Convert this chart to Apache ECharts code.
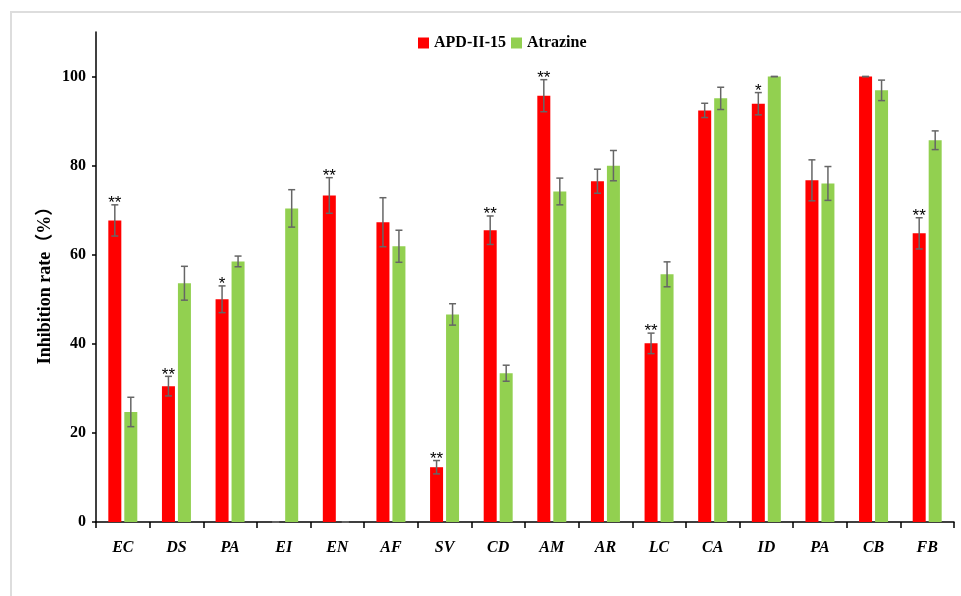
<!DOCTYPE html>
<html>
<head>
<meta charset="utf-8">
<script src="https://cdn.jsdelivr.net/npm/echarts@6/dist/echarts.min.js"></script>
<style>
  html, body { margin: 0; padding: 0; background: #fff; }
  #chart { width: 961px; height: 596px; }
</style>
</head>
<body>
<div id="chart"></div>
<script>
// Strain abbreviations on the x axis
const categories = ['EC', 'DS', 'PA', 'EI', 'EN', 'AF', 'SV', 'CD', 'AM', 'AR', 'LC', 'CA', 'ID', 'PA', 'CB', 'FB'];

// Inhibition rate (%) and standard deviation per strain
const apdValues   = [67.7, 30.5, 50.0, 0, 73.3, 67.3, 12.3, 65.5, 95.7, 76.5, 40.1, 92.4, 93.9, 76.7, 100, 64.8];
const apdErrors   = [3.5, 2.2, 3.0, 0, 4.0, 5.5, 1.5, 3.2, 3.6, 2.7, 2.3, 1.6, 2.5, 4.6, 0, 3.5];
const atrValues   = [24.7, 53.6, 58.5, 70.4, 0, 61.9, 46.6, 33.4, 74.2, 80.0, 55.6, 95.1, 100, 76.0, 96.9, 85.7];
const atrErrors   = [3.3, 3.8, 1.2, 4.2, 0, 3.6, 2.4, 1.8, 3.0, 3.4, 2.8, 2.5, 0, 3.8, 2.3, 2.1];

// Significance marks above APD-II-15 bars
const apdSignif   = ['**', '**', '*', '', '**', '', '**', '**', '**', '', '**', '', '*', '', '', '**'];

const yTicks = [0, 20, 40, 60, 80, 100];
const yAxisTitle = 'Inhibition rate（%）';

const RED = '#ff0000';
const GREEN = '#92d050';
const BAR_W = 13;
const HALF_OFFSET = 8;
const SERIF = '"Liberation Serif", "Times New Roman", "Noto Sans CJK SC", serif';

function errorSeries(values, errors, offset, marks) {
  return {
    type: 'custom',
    z: 5,
    data: values.map((v, i) => [i, v, errors[i]]),
    renderItem: function (params, api) {
      const idx = api.value(0);
      const val = api.value(1);
      const err = api.value(2);
      const mark = marks ? marks[idx] : '';
      const top = api.coord([idx, val + err]);
      const bot = api.coord([idx, Math.max(val - err, 0)]);
      const x = top[0] + offset;
      const cap = 3.5;
      const style = { stroke: '#666666', lineWidth: 1.5 };
      const children = [
        { type: 'line', shape: { x1: x, y1: top[1], x2: x, y2: bot[1] }, style: style },
        { type: 'line', shape: { x1: x - cap, y1: top[1], x2: x + cap, y2: top[1] }, style: style },
        { type: 'line', shape: { x1: x - cap, y1: bot[1], x2: x + cap, y2: bot[1] }, style: style }
      ];
      if (mark) {
        children.push({
          type: 'text',
          style: {
            text: mark, x: x, y: top[1] + 7,
            align: 'center', verticalAlign: 'bottom',
            fill: '#000', font: '17px "Liberation Sans", Arial, sans-serif'
          }
        });
      }
      return { type: 'group', children: children };
    }
  };
}

const chart = echarts.init(document.getElementById('chart'));
chart.setOption({
  animation: false,
  backgroundColor: '#fff',
  graphic: [
    {
      type: 'rect',
      z: -10,
      shape: { x: 11, y: 12, width: 1000, height: 700 },
      style: { fill: 'none', stroke: '#dddddd', lineWidth: 2 }
    },
    {
      // vertical y-axis title
      type: 'text',
      x: 45,
      y: 281,
      rotation: Math.PI / 2,
      style: {
        text: yAxisTitle,
        align: 'center',
        verticalAlign: 'middle',
        fill: '#000',
        font: 'bold 18px ' + SERIF
      }
    }
  ],
  legend: {
    top: 30,
    left: 413,
    itemWidth: 11,
    itemHeight: 11,
    itemGap: 5,
    icon: 'rect',
    textStyle: { fontFamily: SERIF, fontWeight: 'bold', fontSize: 16, color: '#000', padding: [0, 0, 0, 0] },
    data: ['APD-II-15', 'Atrazine']
  },
  grid: { left: 96, right: 7, top: 32, bottom: 74, containLabel: false },
  xAxis: {
    type: 'category',
    data: categories,
    axisLine: { lineStyle: { color: '#000', width: 1.5 } },
    axisTick: { show: true, length: 6, alignWithLabel: false, lineStyle: { color: '#000', width: 1.5 } },
    axisLabel: {
      margin: 18,
      fontFamily: SERIF,
      fontWeight: 'bold', fontStyle: 'italic', fontSize: 16, color: '#000'
    }
  },
  yAxis: {
    type: 'value',
    min: 0,
    max: 110,
    interval: 20,
    splitLine: { show: false },
    axisLine: { show: true, lineStyle: { color: '#000', width: 1.5 } },
    axisTick: { show: true, length: 4, customValues: yTicks, lineStyle: { color: '#000', width: 1.5 } },
    axisLabel: {
      customValues: yTicks,
      margin: 10,
      fontFamily: SERIF,
      fontWeight: 'bold', fontSize: 16, color: '#000'
    }
  },
  series: [
    {
      name: 'APD-II-15', type: 'bar', data: apdValues,
      barWidth: BAR_W, barGap: '23%',
      itemStyle: { color: RED }
    },
    {
      name: 'Atrazine', type: 'bar', data: atrValues,
      barWidth: BAR_W, barGap: '23%',
      itemStyle: { color: GREEN }
    },
    errorSeries(apdValues, apdErrors, -HALF_OFFSET, apdSignif),
    errorSeries(atrValues, atrErrors, HALF_OFFSET, null)
  ]
});
</script>
</body>
</html>
